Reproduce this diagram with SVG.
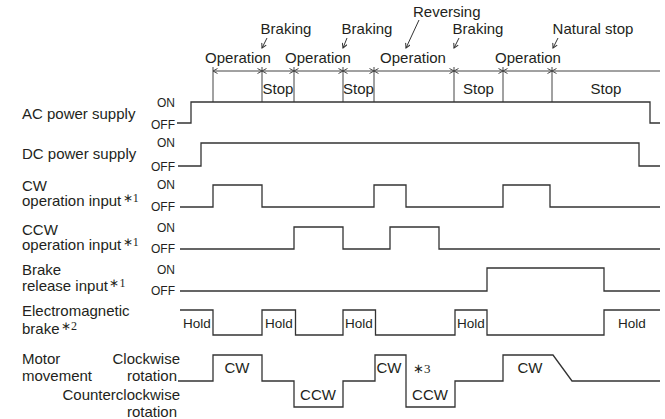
<svg xmlns="http://www.w3.org/2000/svg" width="665" height="419" viewBox="0 0 665 419">
<style>
text{font-family:"Liberation Sans",Arial,sans-serif;fill:#231f20}
.lbl{font-size:15px}
.mid{text-anchor:middle}
.end{text-anchor:end}
.onoff{font-size:12px;text-anchor:end}
.sup{font-family:"Liberation Serif","Times New Roman",serif;font-size:12px}
.hold{font-size:13.5px;text-anchor:middle}
.wave{fill:none;stroke:#333;stroke-width:1.3}
.tl{fill:none;stroke:#444;stroke-width:1}
.seg{fill:none;stroke:#444;stroke-width:1;marker-start:url(#ah);marker-end:url(#ah)}
.call{fill:none;stroke:#333;stroke-width:1;marker-end:url(#ah2)}
</style>
<defs>
<marker id="ah" markerUnits="userSpaceOnUse" markerWidth="6" markerHeight="6" refX="5" refY="3" orient="auto-start-reverse">
<path d="M0.5,0.5 L5,3 L0.5,5.5" fill="none" stroke="#444" stroke-width="1"/>
</marker>
<marker id="ah2" markerUnits="userSpaceOnUse" markerWidth="6" markerHeight="6" refX="5" refY="3" orient="auto">
<path d="M0.5,0.5 L5,3 L0.5,5.5" fill="none" stroke="#333" stroke-width="1"/>
</marker>
</defs>

<g id="timeline">
<path class="tl" d="M213,67V102M262,67V102M294,67V102M343,67V102M374,67V102M454,67V102M503,67V102M552,67V102"/>
<line class="seg" x1="213" y1="71" x2="262" y2="71"/>
<line class="seg" x1="262" y1="71" x2="294" y2="71"/>
<line class="seg" x1="294" y1="71" x2="343" y2="71"/>
<line class="seg" x1="343" y1="71" x2="374" y2="71"/>
<line class="seg" x1="374" y1="71" x2="454" y2="71"/>
<line class="seg" x1="454" y1="71" x2="503" y2="71"/>
<line class="seg" x1="503" y1="71" x2="552" y2="71"/>
<line class="tl" x1="552" y1="71" x2="660" y2="71" marker-start="url(#ah)"/>
<text class="lbl mid" x="238" y="63">Operation</text>
<text class="lbl mid" x="318" y="63">Operation</text>
<text class="lbl mid" x="413" y="63">Operation</text>
<text class="lbl mid" x="528" y="63">Operation</text>
<text class="lbl mid" x="278" y="94">Stop</text>
<text class="lbl mid" x="358.5" y="94">Stop</text>
<text class="lbl mid" x="478.5" y="94">Stop</text>
<text class="lbl mid" x="606" y="94">Stop</text>
<text class="lbl mid" x="286" y="34">Braking</text>
<text class="lbl mid" x="367" y="34">Braking</text>
<text class="lbl mid" x="478" y="34">Braking</text>
<text class="lbl mid" x="593" y="34">Natural stop</text>
<text class="lbl" x="413" y="17">Reversing</text>
</g>

<g id="connectors">
<line class="call" x1="267" y1="38" x2="262" y2="48"/>
<line class="call" x1="347" y1="38" x2="343" y2="48"/>
<line class="call" x1="419" y1="20" x2="406" y2="48"/>
<line class="call" x1="459" y1="38" x2="454" y2="48"/>
<line class="call" x1="558" y1="38" x2="553" y2="48"/>
</g>

<g id="ac-power">
<text class="lbl" x="22" y="119">AC power supply</text>
<text class="onoff" x="175" y="107">ON</text>
<text class="onoff" x="175" y="129">OFF</text>
<path class="wave" d="M177,123H191V102H650V123H660"/>
</g>

<g id="dc-power">
<text class="lbl" x="22" y="159">DC power supply</text>
<text class="onoff" x="175" y="147">ON</text>
<text class="onoff" x="175" y="171">OFF</text>
<path class="wave" d="M178,166H201V143H639V166H660"/>
</g>

<g id="cw-input">
<text class="lbl" x="22" y="190.5">CW</text>
<text class="lbl" x="22" y="206">operation input<tspan class="sup" dx="1.5" dy="-4">∗1</tspan></text>
<text class="onoff" x="175" y="189">ON</text>
<text class="onoff" x="175" y="211">OFF</text>
<path class="wave" d="M180,207H213V185H262V207H374V185H406V207H503V185H550V207H660"/>
</g>

<g id="ccw-input">
<text class="lbl" x="22" y="234.5">CCW</text>
<text class="lbl" x="22" y="250">operation input<tspan class="sup" dx="1.5" dy="-4">∗1</tspan></text>
<text class="onoff" x="175" y="231.5">ON</text>
<text class="onoff" x="175" y="253">OFF</text>
<path class="wave" d="M180,249H294V227H343V249H390V227H439V249H660"/>
</g>

<g id="brake-release">
<text class="lbl" x="22" y="275">Brake</text>
<text class="lbl" x="22" y="291">release input<tspan class="sup" dx="1.5" dy="-4">∗1</tspan></text>
<text class="onoff" x="175" y="274">ON</text>
<text class="onoff" x="175" y="295">OFF</text>
<path class="wave" d="M180,291H487V268H604V291H660"/>
</g>

<g id="em-brake">
<text class="lbl" x="22" y="315.5">Electromagnetic</text>
<text class="lbl" x="22" y="333.5">brake<tspan class="sup" dx="1.5" dy="-4">∗2</tspan></text>
<path class="wave" d="M180,310H213V335H262V310H295.5V335H343V310H375.5V335H455V310H487V335H604V310H660"/>
<text class="hold" x="197" y="328">Hold</text>
<text class="hold" x="279" y="328">Hold</text>
<text class="hold" x="359" y="328">Hold</text>
<text class="hold" x="471" y="328">Hold</text>
<text class="hold" x="632" y="328">Hold</text>
</g>

<g id="motor">
<text class="lbl" x="22" y="364">Motor</text>
<text class="lbl" x="22" y="381">movement</text>
<text class="lbl end" x="180" y="364">Clockwise</text>
<text class="lbl end" x="177" y="381">rotation</text>
<text class="lbl end" x="180" y="400">Counterclockwise</text>
<text class="lbl end" x="177" y="417">rotation</text>
<path class="wave" d="M178,381H213V355H262V381H294V407H343V381H375V355H406V407H455V381H503V355H553L572,381H660"/>
<text class="lbl mid" x="237" y="373">CW</text>
<text class="lbl mid" x="318" y="400">CCW</text>
<text class="lbl mid" x="389" y="373">CW</text>
<text class="sup" x="413" y="373" style="font-size:13px">∗3</text>
<text class="lbl mid" x="430" y="400">CCW</text>
<text class="lbl mid" x="530" y="373">CW</text>
</g>
</svg>
